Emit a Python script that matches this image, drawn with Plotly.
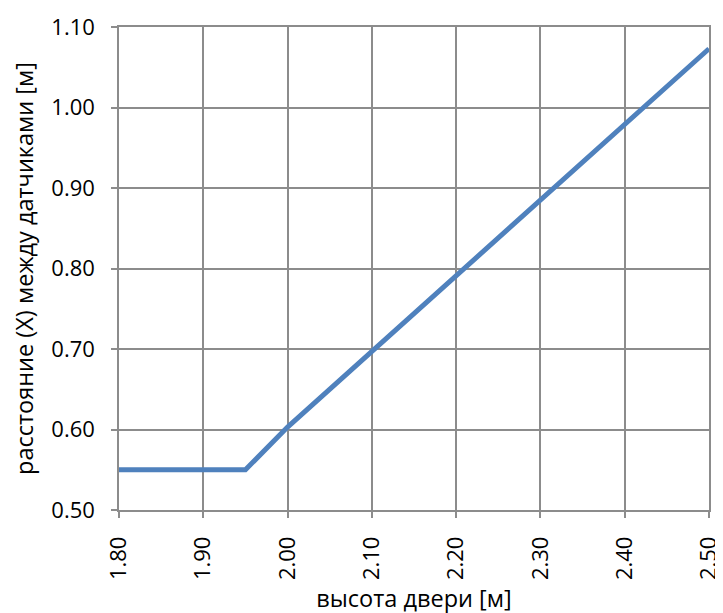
import plotly.graph_objects as go

door_height = [1.80, 1.90, 1.95, 2.00, 2.10, 2.20, 2.30, 2.40, 2.50]
sensor_distance = [0.55, 0.55, 0.55, 0.603, 0.697, 0.791, 0.885, 0.979, 1.073]
x_ticks = [1.80, 1.90, 2.00, 2.10, 2.20, 2.30, 2.40, 2.50]
y_ticks = [0.50, 0.60, 0.70, 0.80, 0.90, 1.00, 1.10]

grid = "#8c8c8c"
fig = go.Figure(go.Scatter(x=door_height, y=sensor_distance, mode="lines",
                           line=dict(color="#4f81bd", width=5)))
fig.update_layout(
    width=723, height=613, plot_bgcolor="white", paper_bgcolor="white",
    margin=dict(l=111, r=22, t=19, b=111, autoexpand=False), showlegend=False,
    font=dict(family="Open Sans, Liberation Sans, sans-serif", color="black"),
)
fig.update_xaxes(range=[1.80, 2.50], tickvals=x_ticks, ticktext=[f"{v:.2f}" for v in x_ticks],
                 tickangle=-90, tickfont=dict(size=22), showgrid=True, gridcolor=grid, gridwidth=1.5,
                 showline=True, linecolor=grid, linewidth=1.5, mirror=True, automargin=False,
                 ticks="outside", ticklen=6, tickcolor=grid, tickwidth=1.5, zeroline=False,
                 ticklabelstandoff=10,
                 title=dict(text="высота двери [м]", font=dict(size=23.5), standoff=11))
fig.update_yaxes(range=[0.50, 1.10], tickvals=y_ticks, ticktext=[f"{v:.2f}" for v in y_ticks],
                 tickfont=dict(size=22), showgrid=True, gridcolor=grid, gridwidth=1.5,
                 showline=True, linecolor=grid, linewidth=1.5, mirror=True, automargin=False,
                 ticks="outside", ticklen=6, tickcolor=grid, tickwidth=1.5, zeroline=False,
                 ticklabelstandoff=12,
                 title=dict(text="расстояние (X) между датчиками [м]", font=dict(size=23.5), standoff=23))
fig.write_html("out.html")
